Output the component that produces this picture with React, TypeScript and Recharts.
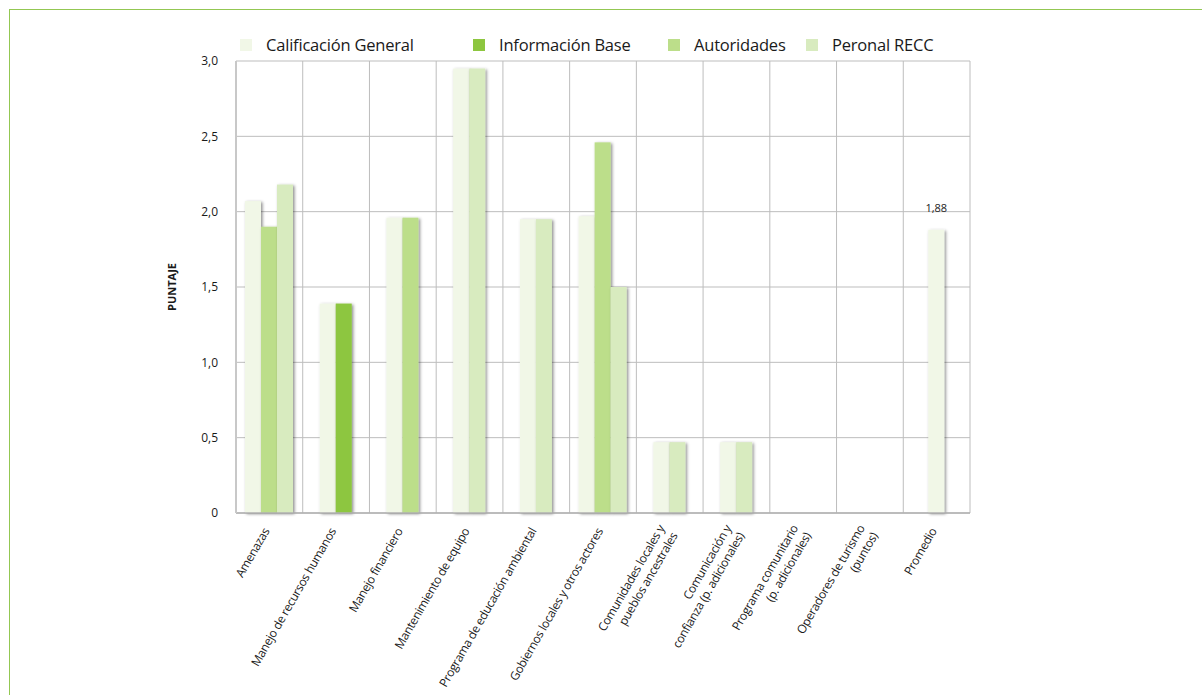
import React from 'react';
import { BarChart, Bar, XAxis, YAxis, CartesianGrid } from 'recharts';

const categories = [
    'Amenazas',
    'Manejo de recursos humanos',
    'Manejo financiero',
    'Mantenimiento de equipo',
    'Programa de educación ambiental',
    'Gobiernos locales y otros actores',
    'Comunidades locales y\npueblos ancestrales',
    'Comunicación y\nconfianza (p. adicionales)',
    'Programa comunitario\n(p. adicionales)',
    'Operadores de turismo\n(puntos)',
    'Promedio',
];

const calificacionGeneral = [2.07, 1.39, 1.96, 2.95, 1.95, 1.97, 0.47, 0.47, null, null, 1.88];
const informacionBase = [null, 1.39, null, null, null, null, null, null, null, null, null];
const autoridades = [1.9, null, 1.96, null, null, 2.46, null, null, null, null, null];
const personalRecc = [2.18, null, null, 2.95, 1.95, 1.5, 0.47, 0.47, null, null, null];

const yTicks = [0, 0.5, 1, 1.5, 2, 2.5, 3];
const labeledCategories = ['Promedio'];

const series = [
    { key: 'cg', name: 'Calificación General', color: '#f1f7e7', values: calificacionGeneral },
    { key: 'ib', name: 'Información Base', color: '#8dc63f', values: informacionBase },
    { key: 'aut', name: 'Autoridades', color: '#bcde8a', values: autoridades },
    { key: 'pr', name: 'Peronal RECC', color: '#d8ebbf', values: personalRecc },
];

const data = categories.map((name, i) => {
    const row: Record<string, any> = { name };
    series.forEach(s => { row[s.key] = s.values[i]; });
    return row;
});

const fmt = (v: number) => (v === 0 ? '0' : v.toFixed(1).replace('.', ','));

// bars of a category are packed together and centred, whatever series they belong to
function CenteredBar(props: any) {
    const { x, y, width, height, payload, fill, seriesKey, slot } = props;
    if (payload == null || payload[seriesKey] == null || !height) return null;
    const present = series.filter(s => payload[s.key] != null).map(s => s.key);
    const idx = present.indexOf(seriesKey);
    const start = x - slot * width;
    const center = start + (series.length * width) / 2;
    const nx = center - (present.length * width) / 2 + idx * width;
    const showLabel = seriesKey === 'cg' && labeledCategories.includes(payload.name);
    return (
        <g>
            <rect x={nx} y={y} width={width} height={height} fill={fill} filter="url(#barShadow)" />
            {showLabel && (
                <text x={nx + width / 2} y={y - 18} textAnchor="middle" fontSize={11} fill="#222"
                    fontFamily="'Open Sans', sans-serif">
                    {payload[seriesKey].toFixed(2).replace('.', ',')}
                </text>
            )}
        </g>
    );
}

function CategoryTick(props: any) {
    const { x, y, payload } = props;
    const lines = String(payload.value).split('\n');
    const lh = 15;
    return (
        <g transform={`translate(${x - 3},${y + 14})`}>
            <text transform="rotate(-60)" textAnchor="end" fontSize={12} fill="#1a1a1a"
                fontFamily="'Open Sans', sans-serif" letterSpacing={-0.35}>
                {lines.map((l, i) => (
                    <tspan key={i} x={0} dy={i === 0 ? 4 - 6 * (lines.length - 1) : lh}>{l}</tspan>
                ))}
            </text>
        </g>
    );
}

const legendWidths = [233, 195, 138, 150];

export default function App() {
    return (
        <div style={{ position: 'absolute', left: 0, top: 0, width: 1202, height: 695, overflow: 'hidden', background: '#fff' }}>
            <div style={{
                position: 'absolute', left: 9, top: 9, width: 1300, height: 800,
                borderTop: '1px solid #93c752', borderLeft: '1px solid #93c752',
            }} />
            <div style={{ position: 'absolute', left: 240, top: 33, display: 'flex', alignItems: 'center' }}>
                {series.map((s, i) => (
                    <div key={s.key} style={{ width: legendWidths[i], display: 'flex', alignItems: 'center' }}>
                        <span style={{ width: 12, height: 12, background: s.color, display: 'inline-block', marginRight: 14 }} />
                        <span style={{ fontFamily: "'Open Sans', sans-serif", fontSize: 16.5, color: '#1a1a1a', letterSpacing: -0.2 }}>
                            {s.name}
                        </span>
                    </div>
                ))}
            </div>
            <div style={{ position: 'absolute', left: 0, top: 0 }}>
                <BarChart width={1202} height={695} data={data} barGap={0} barSize={16}
                    margin={{ top: 61, right: 232, bottom: 12, left: 166 }}>
                    <defs>
                        <filter id="barShadow" x="-30%" y="-5%" width="160%" height="110%">
                            <feDropShadow dx={1.5} dy={1} stdDeviation={1.4} floodColor="#000" floodOpacity={0.45} />
                        </filter>
                    </defs>
                    <CartesianGrid stroke="#bdbdbd" strokeWidth={1}
                        verticalCoordinatesGenerator={({ offset }: any) =>
                            categories.map((_, i) => offset.left + (i * offset.width) / categories.length)
                                .concat(offset.left + offset.width)}
                    />
                    <XAxis dataKey="name" interval={0} height={170} tickLine={false} tickSize={0}
                        axisLine={{ stroke: '#b0b0b0', strokeWidth: 1.5 }} tick={<CategoryTick />} />
                    <YAxis domain={[0, 3]} ticks={yTicks} tickFormatter={fmt} width={70} interval={0}
                        tickLine={false} tickSize={0} tickMargin={18}
                        axisLine={{ stroke: '#c8c8c8', strokeWidth: 2 }}
                        tick={{ fontSize: 12, fill: '#1a1a1a', fontFamily: "'Open Sans', sans-serif" }}
                        label={{
                            value: 'PUNTAJE', angle: -90, position: 'insideLeft', offset: 6,
                            style: { textAnchor: 'middle', fontSize: 11, fontWeight: 700, fill: '#1a1a1a', fontFamily: "'Open Sans', sans-serif" },
                        }} />
                    {series.map((s, i) => (
                        <Bar key={s.key} dataKey={s.key} name={s.name} fill={s.color} isAnimationActive={false}
                            shape={(p: any) => <CenteredBar {...p} seriesKey={s.key} slot={i} />} />
                    ))}
                </BarChart>
            </div>
        </div>
    );
}
